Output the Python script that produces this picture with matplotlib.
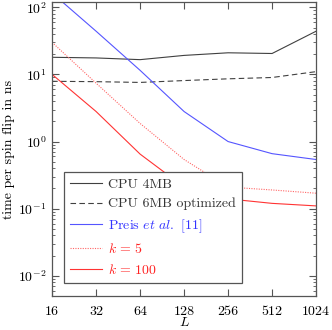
import numpy as np
import matplotlib
matplotlib.use('Agg')
import matplotlib.pyplot as plt
from matplotlib.ticker import LogLocator, NullLocator, FixedLocator, FixedFormatter

plt.rcParams['font.family'] = 'cmr10'
plt.rcParams['mathtext.fontset'] = 'cm'
plt.rcParams['axes.formatter.use_mathtext'] = True
plt.rcParams['font.size'] = 10

L = [16, 32, 64, 128, 256, 512, 1024]
cpu4 = [18.0, 17.6, 16.6, 19.2, 21.0, 20.5, 44.0]
cpu6 = [7.9, 7.8, 7.6, 8.1, 8.6, 9.0, 11.0]
preis = [163, 44, 11.5, 2.8, 1.0, 0.66, 0.54]
k5 = [30, 7.4, 1.86, 0.54, 0.21, 0.19, 0.17]
k100 = [10, 2.8, 0.65, 0.21, 0.14, 0.12, 0.11]

fig = plt.figure(figsize=(3.32, 3.30), dpi=100)
ax = fig.add_axes([0.157, 0.103, 0.795, 0.891])

ax.plot(L, cpu4, color='#404040', lw=0.8, label='CPU 4MB')
ax.plot(L, cpu6, color='#404040', lw=0.8, ls=(0, (5, 3)), label='CPU 6MB optimized')
ax.plot(L, preis, color='#5555ff', lw=0.8, label=r'Preis $\mathit{et\ al.}$ [11]')
ax.plot(L, k5, color='#ff6666', lw=0.8, ls=(0, (1, 1.2)), label=r'$k\,=\,5$')
ax.plot(L, k100, color='#ff3333', lw=0.8, label=r'$k\,=\,100$')

ax.set_xscale('log', base=2)
ax.set_yscale('log')
ax.set_xlim(16, 1024)
ax.set_ylim(0.005, 120)
ax.xaxis.set_major_locator(FixedLocator(L))
ax.xaxis.set_major_formatter(FixedFormatter([str(v) for v in L]))
ax.xaxis.set_minor_locator(NullLocator())
ax.yaxis.set_major_locator(LogLocator(base=10, numticks=10))
ax.yaxis.set_minor_locator(LogLocator(base=10, subs=np.arange(2, 10), numticks=20))

ax.tick_params(which='both', direction='in', top=True, right=True, colors='#555555', labelcolor='black')
ax.tick_params(which='major', length=5, width=0.8)
ax.tick_params(which='minor', length=2.5, width=0.6)
ax.tick_params(axis='x', pad=7)
ax.tick_params(axis='y', pad=4)
for s in ax.spines.values():
    s.set_color('#555555')
    s.set_linewidth(0.9)

ax.set_xlabel('$L$', labelpad=-1)
ax.set_ylabel('time per spin flip in ns', labelpad=2)

leg = ax.legend(loc='lower left', bbox_to_anchor=(0.045, 0.044), fancybox=False,
                edgecolor='#555555', framealpha=1, handlelength=2.3, borderpad=0.45,
                labelspacing=0.5, handletextpad=0.4, borderaxespad=0, fontsize=10)
leg.get_frame().set_linewidth(0.9)
for t, c in zip(leg.get_texts(), ['#333333', '#333333', '#3333ff', '#ff2222', '#ff2222']):
    t.set_color(c)

fig.savefig('out.png', dpi=100)
